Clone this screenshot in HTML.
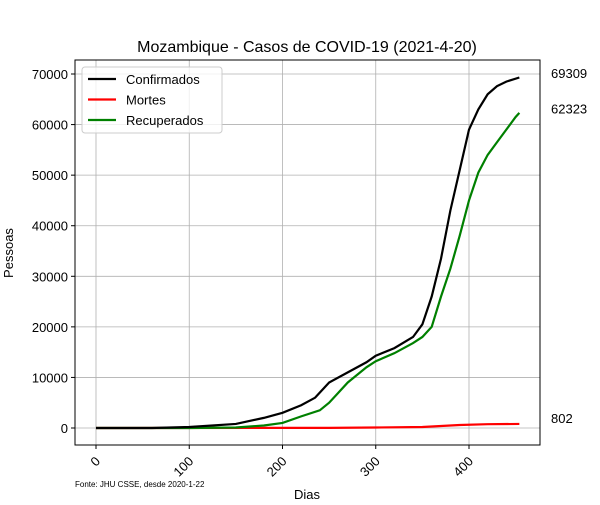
<!DOCTYPE html>
<html><head><meta charset="utf-8"><style>
body{margin:0;background:#fff}
svg{font-family:"Liberation Sans","DejaVu Sans",sans-serif}
</style></head><body>
<svg id="c" width="600" height="500" viewBox="0 0 600 500">
<rect width="600" height="500" fill="#fff"/>
<text x="307" y="52" text-anchor="middle" font-size="16">Mozambique - Casos de COVID-19 (2021-4-20)</text>
<text x="307" y="499" text-anchor="middle" font-size="13">Dias</text>
<text x="13" y="253" text-anchor="middle" font-size="13" transform="rotate(-90 13 253)">Pessoas</text>
<text x="75" y="487" font-size="8">Fonte: JHU CSSE, desde 2020-1-22</text>
<g id="grid"></g><g id="series"></g><g id="axes"></g>
</svg>
<script>
const xTicks=[0,100,200,300,400];
const yTicks=[0,10000,20000,30000,40000,50000,60000,70000];
const confDays=[0,60,100,150,180,200,220,235,250,270,290,300,320,340,350,360,370,380,390,400,410,420,430,440,454];
const confVals=[0,0,200,800,2000,3000,4500,6000,9000,11000,13000,14300,15800,18000,20500,26000,33500,43000,51000,59000,63000,66000,67600,68500,69309];
const recDays=[0,100,150,180,200,220,240,250,260,270,290,300,320,340,350,360,365,370,380,390,400,410,420,430,440,450,454];
const recVals=[0,0,100,500,1000,2300,3500,5000,7000,9000,12000,13200,14800,16800,18000,20000,23000,26000,31500,38000,45000,50500,54000,56500,59000,61500,62323];
const deathDays=[0,250,300,350,390,420,454];
const deathVals=[0,30,100,200,600,750,802];
const finalLabels=["69309","62323","802"];
const NS="http://www.w3.org/2000/svg";
const L=75,R=540,T=60,B=445;
const x=d=>96+d*0.9325, y=v=>428-v*0.005057;
function mk(p,t,a){const e=document.createElementNS(NS,t);for(const k in a)e.setAttribute(k,a[k]);p.appendChild(e);return e;}
const g=document.getElementById('grid'),s=document.getElementById('series'),ax=document.getElementById('axes');
xTicks.forEach(t=>{const l=mk(g,'line',{x1:x(t),x2:x(t),y1:T,y2:B,stroke:'#b0b0b0','stroke-width':0.8});

mk(ax,'line',{x1:x(t),x2:x(t),y1:B,y2:B+4,stroke:'#000'});
const tx=mk(ax,'text',{x:x(t)+5,y:B+17,'font-size':13,'text-anchor':'end',transform:`rotate(-45 ${x(t)+5} ${B+17})`});tx.textContent=t;
});
yTicks.forEach(t=>{const l=mk(g,'line',{x1:L,x2:R,y1:y(t),y2:y(t),stroke:'#b0b0b0','stroke-width':0.8});

mk(ax,'line',{x1:L-4,x2:L,y1:y(t),y2:y(t),stroke:'#000'});
const tx=mk(ax,'text',{x:L-7,y:y(t)+5,'font-size':13,'text-anchor':'end'});tx.textContent=t;
});
const fr=mk(ax,'rect',{x:L,y:T,width:R-L,height:B-T,fill:'none',stroke:'#000','stroke-width':1});

function line(days,vals,col,name){const p=mk(s,'polyline',{points:days.map((d,i)=>x(d)+','+y(vals[i])).join(' '),fill:'none',stroke:col,'stroke-width':2.2});
}
line(deathDays,deathVals,'#ff0000','deaths-line');
line(recDays,recVals,'#008000','recovered-line');
line(confDays,confVals,'#000','confirmed-line');
[[confVals,0],[recVals,1],[deathVals,2]].forEach(([v,i])=>{const last=v[v.length-1];
const yy=y(last)+(i===2?-1:0.5);
const t=mk(ax,'text',{x:551,y:yy,'font-size':13});t.textContent=finalLabels[i];
});
const lg=mk(ax,'g',{});
mk(lg,'rect',{x:82,y:67,width:140,height:66,rx:3,fill:'#fff','fill-opacity':0.8,stroke:'#ccc'});
[['Confirmados','#000'],['Mortes','#ff0000'],['Recuperados','#008000']].forEach(([n,c],i)=>{
const yy=79+i*20.5;const e=mk(lg,'g',{});
mk(e,'line',{x1:88,x2:116,y1:yy,y2:yy,stroke:c,'stroke-width':2.2});
const t=mk(e,'text',{x:126,y:yy+5,'font-size':13});t.textContent=n;});
</script>
</body></html>
